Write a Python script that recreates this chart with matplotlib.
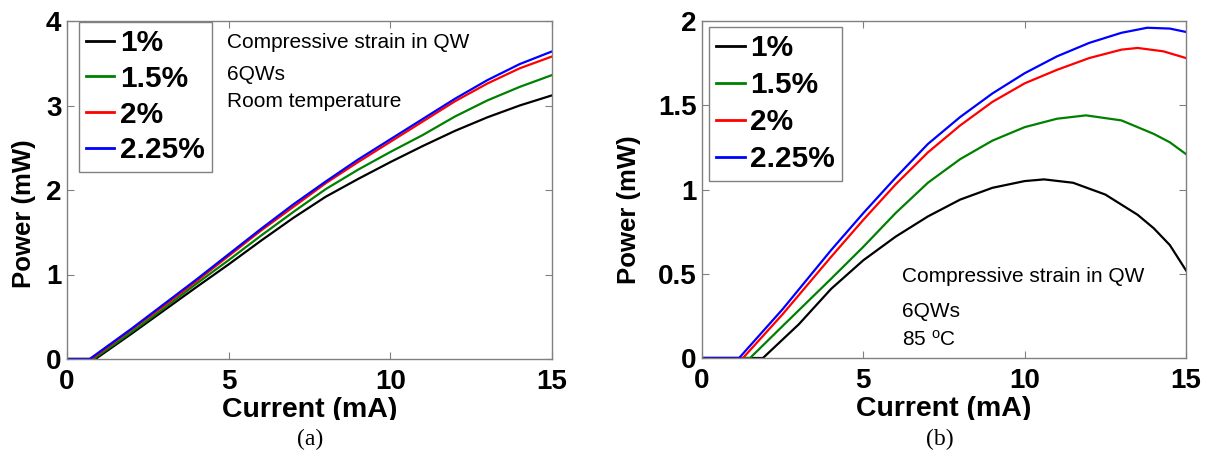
"""Light-current curves for compressively strained 6QW lasers: (a) room temp, (b) 85 C."""
import matplotlib
matplotlib.use("Agg")
import matplotlib.pyplot as plt
from matplotlib.patches import Rectangle

plt.rcParams["font.family"] = ["Liberation Sans", "DejaVu Sans"]
plt.rcParams["mathtext.default"] = "regular"

strains = ["1%", "1.5%", "2%", "2.25%"]
colors = ["#000000", "#008000", "#ff0000", "#0000ff"]

# (a) room temperature, current in mA, power in mW
a_x_1 = [0, 0.88, 2, 3, 4, 5, 6, 7, 8, 9, 10, 11, 12, 13, 14, 15]
a_y_1 = [0, 0, 0.30, 0.575, 0.85, 1.12, 1.40, 1.67, 1.92, 2.13, 2.33, 2.52, 2.70, 2.86, 3.00, 3.12]
a_x_15 = [0, 0.82, 2, 3, 4, 5, 6, 7, 8, 9, 10, 11, 12, 13, 14, 15]
a_y_15 = [0, 0, 0.32, 0.60, 0.89, 1.17, 1.46, 1.74, 2.01, 2.24, 2.45, 2.65, 2.87, 3.06, 3.22, 3.36]
a_x_2 = [0, 0.75, 2, 3, 4, 5, 6, 7, 8, 9, 10, 11, 12, 13, 14, 15]
a_y_2 = [0, 0, 0.35, 0.63, 0.92, 1.22, 1.52, 1.80, 2.08, 2.33, 2.57, 2.81, 3.05, 3.26, 3.44, 3.58]
a_x_225 = [0, 0.70, 2, 3, 4, 5, 6, 7, 8, 9, 10, 11, 12, 13, 14, 15]
a_y_225 = [0, 0, 0.36, 0.65, 0.94, 1.24, 1.54, 1.83, 2.10, 2.36, 2.60, 2.84, 3.08, 3.30, 3.49, 3.64]

# (b) 85 C
b_x_1 = [0, 1.89, 3, 4, 5, 6, 7, 8, 9, 10, 10.6, 11.5, 12.5, 13.5, 14.0, 14.5, 15]
b_y_1 = [0, 0, 0.20, 0.41, 0.58, 0.72, 0.84, 0.94, 1.01, 1.05, 1.06, 1.04, 0.97, 0.85, 0.77, 0.67, 0.52]
b_x_15 = [0, 1.49, 2.5, 4, 5, 6, 7, 8, 9, 10, 11, 11.9, 13, 14, 14.5, 15]
b_y_15 = [0, 0, 0.19, 0.47, 0.66, 0.86, 1.04, 1.18, 1.29, 1.37, 1.42, 1.44, 1.41, 1.33, 1.28, 1.21]
b_x_2 = [0, 1.27, 2.5, 4, 5, 6, 7, 8, 9, 10, 11, 12, 13, 13.5, 14.3, 15]
b_y_2 = [0, 0, 0.26, 0.60, 0.82, 1.03, 1.22, 1.38, 1.52, 1.63, 1.71, 1.78, 1.83, 1.84, 1.82, 1.78]
b_x_225 = [0, 1.15, 2.5, 4, 5, 6, 7, 8, 9, 10, 11, 12, 13, 13.8, 14.5, 15]
b_y_225 = [0, 0, 0.29, 0.64, 0.86, 1.07, 1.27, 1.43, 1.57, 1.69, 1.79, 1.87, 1.93, 1.96, 1.955, 1.935]

a_curves = [(a_x_1, a_y_1), (a_x_15, a_y_15), (a_x_2, a_y_2), (a_x_225, a_y_225)]
b_curves = [(b_x_1, b_y_1), (b_x_15, b_y_15), (b_x_2, b_y_2), (b_x_225, b_y_225)]

x_ticks = [0, 5, 10, 15]
a_y_ticks = [0, 1, 2, 3, 4]
b_y_ticks = [0, 0.5, 1, 1.5, 2]
b_y_ticklabels = ["0", "0.5", "1", "1.5", "2"]

a_notes = ["Compressive strain in QW", "6QWs", "Room temperature"]
b_notes = ["Compressive strain in QW", "6QWs", "85 $^{o}$C"]

GRAY = "#808080"

fig = plt.figure(figsize=(12.1, 4.51), dpi=100)


def panel(rect, curves, yticks, yticklabels, ylim, notes, note_x, note_ys,
          leg_anchor, leg_spacing, ylabel_pos):
    ax = fig.add_axes(rect)
    for (x, y), c, lab in zip(curves, colors, strains):
        ax.plot(x, y, color=c, lw=1.6, label=lab)
    ax.set_xlim(0, 15)
    ax.set_ylim(*ylim)
    ax.set_xticks(x_ticks)
    ax.set_yticks(yticks)
    ax.set_yticklabels(yticklabels)
    ax.tick_params(direction="in", length=5, width=0.8, color=GRAY,
                   top=True, right=True, labelsize=20)
    ax.tick_params(axis="x", pad=7)
    ax.tick_params(axis="y", pad=4)
    for lbl in ax.get_xticklabels() + ax.get_yticklabels():
        lbl.set_fontweight("bold")
    for s in ax.spines.values():
        s.set_color(GRAY)
        s.set_linewidth(1.0)
    ax.set_xlabel("Current (mA)", fontsize=20.5, fontweight="bold")
    ax.set_ylabel("Power (mW)", fontsize=18.5, fontweight="bold")
    ax.xaxis.set_label_coords(0.5, -0.113)
    ax.yaxis.set_label_coords(*ylabel_pos)
    for txt, yy in zip(notes, note_ys):
        ax.text(note_x, yy, txt, transform=ax.transAxes, fontsize=15,
                ha="left", va="center")
    leg = ax.legend(loc="upper left", bbox_to_anchor=leg_anchor, borderaxespad=0,
                    prop={"size": 21.5, "weight": "bold"}, fancybox=False,
                    edgecolor=GRAY, framealpha=1, handlelength=0.95,
                    handletextpad=0.18, borderpad=0.25, labelspacing=leg_spacing)
    leg.get_frame().set_linewidth(1.0)
    for h in leg.get_lines():
        h.set_linewidth(2.0)
    return ax


panel([67 / 1210, 92 / 451, 485 / 1210, 338 / 451], a_curves, a_y_ticks,
      [str(t) for t in a_y_ticks], (0, 4), a_notes, 0.329, [0.936, 0.843, 0.761],
      (0.024, 0.998), 0.26, (-0.064, 0.43))
panel([702 / 1210, 93 / 451, 484 / 1210, 337 / 451], b_curves, b_y_ticks,
      b_y_ticklabels, (0, 2), b_notes, 0.413, [0.241, 0.137, 0.053],
      (0.014, 0.983), 0.3, (-0.126, 0.44))

# the original crops the bottom of the x labels just above the caption line
fig.patches.append(Rectangle((0, 0), 1, 31 / 451, transform=fig.transFigure,
                             facecolor="white", edgecolor="none", zorder=5))
fig.text(310 / 1210, 12 / 451, "(a)", ha="center", va="center", fontsize=17,
         family="Liberation Serif", zorder=6)
fig.text(940 / 1210, 12 / 451, "(b)", ha="center", va="center", fontsize=17,
         family="Liberation Serif", zorder=6)

fig.savefig("out.png", dpi=100)
